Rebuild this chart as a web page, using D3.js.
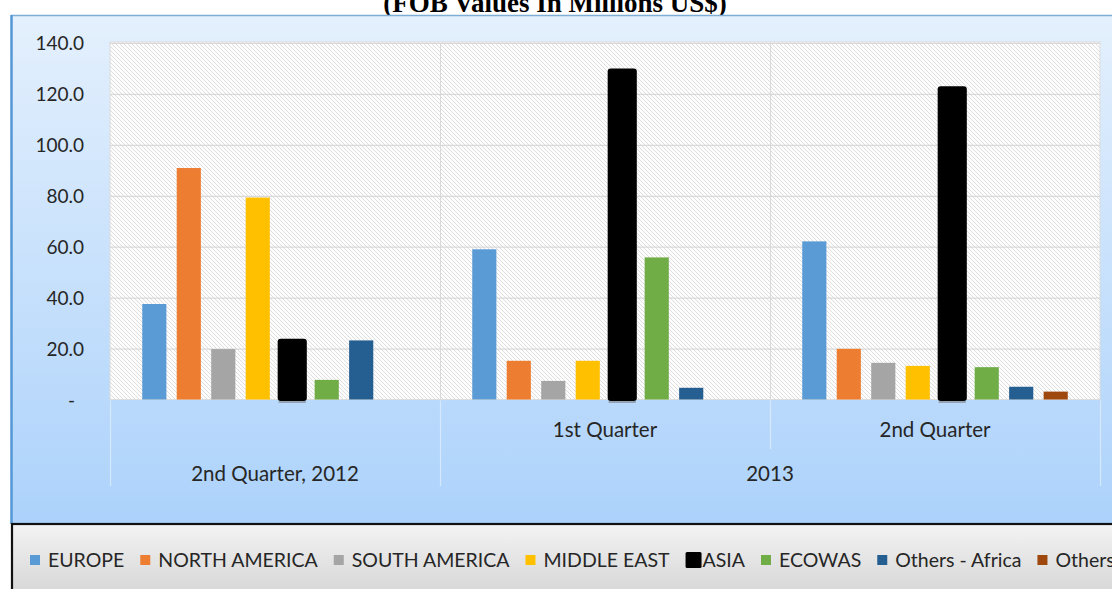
<!DOCTYPE html>
<html>
<head>
<meta charset="utf-8">
<script src="https://cdn.jsdelivr.net/npm/d3@7"></script>
<style>
  html, body { margin: 0; padding: 0; background: #ffffff; overflow: hidden; }
  svg { display: block; }
</style>
</head>
<body>
<svg id="chart" width="1112" height="589"></svg>
<script>
// Export values by destination, FOB, millions of US$
const periods      = ["2nd Quarter, 2012", "2013 Q1", "2013 Q2"];
const quarterLabels = ["", "1st Quarter", "2nd Quarter"];
const yearLabels    = ["2nd Quarter, 2012", "2013", "2013"];

const seriesNames = ["EUROPE", "NORTH AMERICA", "SOUTH AMERICA", "MIDDLE EAST", "ASIA", "ECOWAS", "Others - Africa", "Others"];
const europe       = [37.5, 59.0, 62.1];
const northAmerica = [90.9, 15.2, 19.9];
const southAmerica = [19.8, 7.3, 14.4];
const middleEast   = [79.3, 15.2, 13.2];
const asia         = [23.3, 129.4, 122.4];
const ecowas       = [7.7, 55.8, 12.7];
const othersAfrica = [23.2, 4.6, 5.0];
const others       = [0, 0, 3.1];
const seriesValues = [europe, northAmerica, southAmerica, middleEast, asia, ecowas, othersAfrica, others];
const seriesColors = ["#5b9bd5", "#ed7d31", "#a5a5a5", "#ffc000", "#000000", "#70ad47", "#255e91", "#9e480e"];

const yTicks = [0, 20, 40, 60, 80, 100, 120, 140];
const title = "(FOB Values In Millions US$)";

const svg = d3.select("#chart");
const W = 1112, H = 589;
const plot = { left: 110, right: 1100, top: 43, bottom: 399.5 };
const font = "Lato, 'Open Sans', sans-serif";
const textColor = "#262626";

const defs = svg.append("defs");
const bg = defs.append("linearGradient").attr("id", "bgGrad").attr("x1", 0).attr("y1", 0).attr("x2", 0).attr("y2", 1);
bg.append("stop").attr("offset", "0%").attr("stop-color", "#e4f0fd");
bg.append("stop").attr("offset", "100%").attr("stop-color", "#acd2fb");

const lg = defs.append("linearGradient").attr("id", "legGrad").attr("x1", 0).attr("y1", 0).attr("x2", 0).attr("y2", 1);
lg.append("stop").attr("offset", "0%").attr("stop-color", "#f3f3f3");
lg.append("stop").attr("offset", "100%").attr("stop-color", "#d2d2d2");

const hatch = defs.append("pattern").attr("id", "hatch").attr("patternUnits", "userSpaceOnUse")
  .attr("width", 4).attr("height", 4);
hatch.append("rect").attr("width", 4).attr("height", 4).attr("fill", "#fdfdfd");
hatch.append("path").attr("d", "M-1,-1 L5,5 M-1,3 L1,5 M3,-1 L5,1")
  .attr("stroke", "#dedede").attr("stroke-width", 1);

// title (runs off the top edge)
svg.append("text").attr("x", 555).attr("y", 12).attr("text-anchor", "middle")
  .attr("font-family", "'Liberation Serif', 'Times New Roman', serif").attr("font-weight", "bold")
  .attr("font-size", 27).attr("fill", "#000").text(title);

// chart area background
svg.append("rect").attr("x", 11).attr("y", 15).attr("width", W - 11).attr("height", 510)
  .attr("fill", "url(#bgGrad)");
svg.append("line").attr("x1", 11).attr("x2", W).attr("y1", 15.5).attr("y2", 15.5)
  .attr("stroke", "#7eaed6").attr("stroke-width", 1.5);
svg.append("line").attr("x1", 11.5).attr("x2", 11.5).attr("y1", 15).attr("y2", 524)
  .attr("stroke", "#5597d6").attr("stroke-width", 2.5);

// scales
const x0 = d3.scaleBand().domain(periods).range([plot.left, plot.right]).padding(0);
const x1 = d3.scaleBand().domain(seriesNames).range([0, x0.bandwidth()]).paddingInner(0.3).paddingOuter(0.935);
const y = d3.scaleLinear().domain([0, 140]).range([plot.bottom, plot.top]);

// plot area
svg.append("rect").attr("x", plot.left).attr("y", plot.top - 1)
  .attr("width", plot.right - plot.left).attr("height", plot.bottom - plot.top + 1)
  .attr("fill", "url(#hatch)").attr("stroke", "#dcdcdc").attr("stroke-width", 1);

// horizontal gridlines
svg.append("g").attr("transform", `translate(${plot.left},0)`)
  .call(d3.axisLeft(y).tickValues(yTicks.filter(t => t > 0)).tickSize(-(plot.right - plot.left)).tickFormat(""))
  .call(g => g.select(".domain").remove())
  .call(g => g.selectAll(".tick line").attr("stroke", "#d9d9d9").attr("stroke-width", 1.2));

// vertical separators between periods inside the plot
svg.append("g").selectAll("line").data(periods.slice(1)).join("line")
  .attr("x1", d => x0(d) + 0.5).attr("x2", d => x0(d) + 0.5)
  .attr("y1", plot.top).attr("y2", plot.bottom)
  .attr("stroke", "#d9d9d9").attr("stroke-width", 1);

// y axis labels
svg.append("g").attr("transform", `translate(84,0)`)
  .call(d3.axisLeft(y).tickValues(yTicks).tickSize(0).tickPadding(0)
    .tickFormat(d => d === 0 ? "-" : d3.format(".1f")(d)))
  .call(g => g.select(".domain").remove())
  .call(g => g.selectAll(".tick text").attr("font-family", font).attr("font-size", 19)
    .attr("fill", textColor).attr("dy", "0.35em"))
  .call(g => g.selectAll(".tick text").filter(d => d === 0).attr("dx", -9));

// bars
const barData = [];
periods.forEach((p, i) => {
  seriesNames.forEach((s, j) => {
    const v = seriesValues[j][i];
    if (v > 0) barData.push({ period: p, series: s, value: v, color: seriesColors[j] });
  });
});
const bars = svg.append("g");
bars.selectAll("rect.bar").data(barData.filter(d => d.series !== "ASIA")).join("rect")
  .attr("class", "bar")
  .attr("x", d => x0(d.period) + x1(d.series))
  .attr("width", x1.bandwidth())
  .attr("y", d => y(d.value))
  .attr("height", d => plot.bottom - y(d.value))
  .attr("fill", d => d.color);
// ASIA bars carry a heavy rounded outline that dips below the baseline
bars.selectAll("rect.asia").data(barData.filter(d => d.series === "ASIA")).join("rect")
  .attr("class", "asia")
  .attr("x", d => x0(d.period) + x1(d.series) - 2.5)
  .attr("width", x1.bandwidth() + 5)
  .attr("y", d => y(d.value) - 1.5)
  .attr("height", d => plot.bottom - y(d.value) + 3)
  .attr("rx", 3)
  .attr("fill", "#000");
bars.selectAll("line.asiaBase").data(barData.filter(d => d.series === "ASIA")).join("line")
  .attr("class", "asiaBase")
  .attr("x1", d => x0(d.period) + x1(d.series) - 1.5)
  .attr("x2", d => x0(d.period) + x1(d.series) + x1.bandwidth() + 1.5)
  .attr("y1", plot.bottom + 2.5).attr("y2", plot.bottom + 2.5)
  .attr("stroke", "#6d6d6d").attr("stroke-width", 1);

// category axis: quarter row and year row
const sepColor = "#d6e8fb";
const axisG = svg.append("g");
// outer edges and year changes run to the bottom row, quarter changes only through the top row
const bounds = [];
periods.forEach((p, i) => {
  if (i === 0) bounds.push({ x: x0(p), full: true });
  else bounds.push({ x: x0(p), full: yearLabels[i] !== yearLabels[i - 1] });
});
bounds.push({ x: plot.right, full: true });
axisG.selectAll("line").data(bounds).join("line")
  .attr("x1", d => d.x + 0.5).attr("x2", d => d.x + 0.5)
  .attr("y1", plot.bottom + 1).attr("y2", d => d.full ? 486 : 449)
  .attr("stroke", sepColor).attr("stroke-width", 1.2);

axisG.selectAll("text.q").data(periods.filter((p, i) => quarterLabels[i])).join("text")
  .attr("class", "q")
  .attr("x", d => x0(d) + x0.bandwidth() / 2).attr("y", 437)
  .attr("text-anchor", "middle").attr("font-family", font).attr("font-size", 20.5).attr("fill", textColor)
  .text(d => quarterLabels[periods.indexOf(d)]);

const yearGroups = [];
yearLabels.forEach((lab, i) => {
  const last = yearGroups[yearGroups.length - 1];
  if (last && last.label === lab) last.end = i;
  else yearGroups.push({ label: lab, start: i, end: i });
});
axisG.selectAll("text.yr").data(yearGroups).join("text")
  .attr("class", "yr")
  .attr("x", d => (x0(periods[d.start]) + x0(periods[d.end]) + x0.bandwidth()) / 2).attr("y", 481)
  .attr("text-anchor", "middle").attr("font-family", font).attr("font-size", 20.5).attr("fill", textColor)
  .text(d => d.label);

// legend
svg.append("rect").attr("x", 12).attr("y", 524).attr("width", W + 10).attr("height", 80)
  .attr("fill", "url(#legGrad)").attr("stroke", "#111").attr("stroke-width", 2.2);

const legend = svg.append("g");
let lx = 30;
seriesNames.forEach((s, j) => {
  const big = s === "ASIA";
  const sz = big ? 16 : 10;
  legend.append("rect").attr("x", lx).attr("y", 560 - sz / 2).attr("width", sz).attr("height", sz)
    .attr("rx", big ? 1.5 : 0).attr("fill", seriesColors[j]);
  const gap = big ? 1 : 8;
  const t = legend.append("text").attr("x", lx + sz + gap).attr("y", 567)
    .attr("font-family", font).attr("font-size", 19.5).attr("fill", textColor).text(s);
  lx = lx + sz + gap + t.node().getComputedTextLength() + 16;
});
</script>
</body>
</html>
